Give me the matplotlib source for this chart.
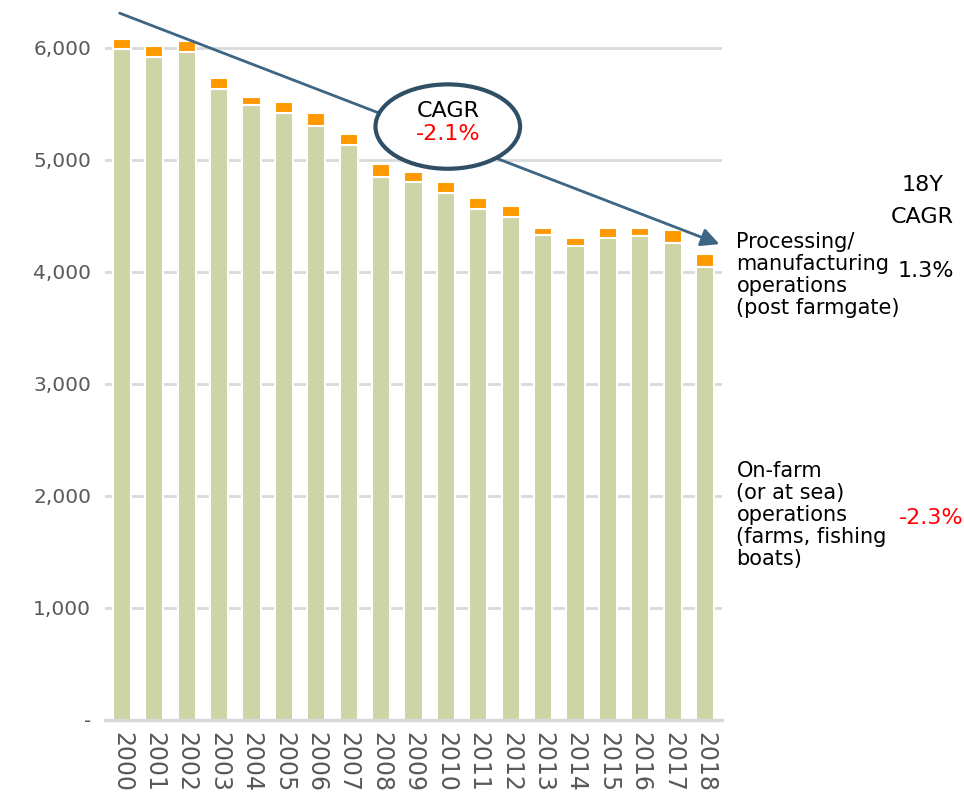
import matplotlib.pyplot as plt
import numpy as np
from matplotlib.patches import Ellipse

years = [str(y) for y in range(2000, 2019)]
on_farm = [5990, 5917, 5962, 5629, 5486, 5415, 5299, 5132, 4847, 4802,
           4704, 4558, 4490, 4326, 4228, 4297, 4320, 4252, 4038]
processing = [90, 95, 95, 98, 71, 98, 116, 95, 116, 89,
              93, 96, 95, 66, 69, 95, 72, 119, 116]
y_ticks = [0, 1000, 2000, 3000, 4000, 5000, 6000]
y_labels = ["-", "1,000", "2,000", "3,000", "4,000", "5,000", "6,000"]

green = "#CED4A6"
orange = "#FF9900"
navy = "#2F4F66"
arrow_col = "#3D6584"
grey = "#595959"

plt.rcParams['font.family'] = ['DejaVu Sans']

fig = plt.figure(figsize=(9.64, 7.96), dpi=100)
ax = fig.add_axes([0.109, 0.0955, 0.64, 0.887])

x = np.arange(len(years))
ax.bar(x, on_farm, width=0.56, color=green, edgecolor="white", linewidth=1.5, zorder=2)
ax.bar(x, processing, bottom=on_farm, width=0.56, color=orange, edgecolor="white",
       linewidth=1.5, zorder=2)

ax.set_xlim(-0.52, 18.52)
ax.set_ylim(0, 6300)
ax.set_yticks(y_ticks)
ax.set_yticklabels(y_labels, color=grey, fontsize=14.5)
ax.set_xticks(x)
ax.set_xticklabels(years, rotation=-90, color=grey, fontsize=17)
ax.tick_params(axis="x", length=0, pad=9)
ax.tick_params(axis="y", length=0, pad=10)
ax.yaxis.grid(True, color="#D9D9D9", linewidth=2, zorder=0)
ax.set_axisbelow(True)
for s in ["top", "right", "left"]:
    ax.spines[s].set_visible(False)
ax.spines["bottom"].set_color("#D9D9D9")
ax.spines["bottom"].set_linewidth(2.5)

# CAGR trend arrow
ax.annotate("", xy=(18.52, 4237), xytext=(-0.15, 6316),
            arrowprops=dict(arrowstyle="-|>,head_length=1.1,head_width=0.55",
                            color=arrow_col, lw=2),
            annotation_clip=False, zorder=3)

ell = Ellipse((0.4645, 0.841), 0.15, 0.106, transform=fig.transFigure,
              facecolor="white", edgecolor=navy, linewidth=3, zorder=5)
ax.add_artist(ell)
ell.set_clip_on(False)
fig.text(0.4645, 0.86, "CAGR", ha="center", va="center", fontsize=16, color="black",
         zorder=10)
fig.text(0.4645, 0.832, "-2.1%", ha="center", va="center", fontsize=16, color="red",
         zorder=10)

fig.text(0.9895, 0.748, "18Y\nCAGR", ha="right", va="center", fontsize=16,
         linespacing=1.75, multialignment="center")
fig.text(0.764, 0.655, "Processing/\nmanufacturing\noperations\n(post farmgate)",
         ha="left", va="center", fontsize=15, linespacing=1.12)
fig.text(0.9895, 0.66, "1.3%", ha="right", va="center", fontsize=16)
fig.text(0.764, 0.353, "On-farm\n(or at sea)\noperations\n(farms, fishing\nboats)",
         ha="left", va="center", fontsize=15, linespacing=1.12)
fig.text(0.999, 0.349, "-2.3%", ha="right", va="center", fontsize=16, color="red")

fig.savefig("out.png", dpi=100)
